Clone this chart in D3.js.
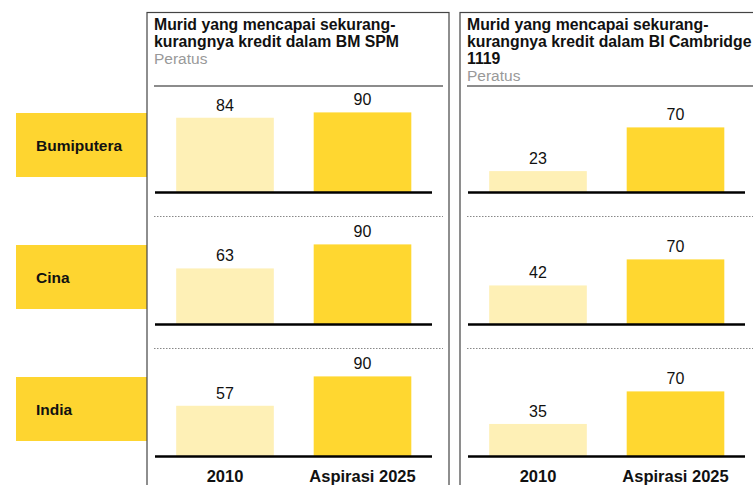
<!DOCTYPE html>
<html><head><meta charset="utf-8">
<script src="https://cdn.jsdelivr.net/npm/d3@7"></script>
<style>
html,body{margin:0;padding:0;background:#fff;}
svg{display:block;font-family:"Liberation Sans",Arial,Helvetica,sans-serif;}
</style></head>
<body>
<svg id="chart" width="753" height="485"></svg>
<script>
// ---- data ----
const groups = ["Bumiputera", "Cina", "India"];
const periods = ["2010", "Aspirasi 2025"];
const bmSpm = [[84, 90], [63, 90], [57, 90]];
const biCambridge = [[23, 70], [42, 70], [35, 70]];
const panelTitles = [
  ["Murid yang mencapai sekurang-", "kurangnya kredit dalam BM SPM"],
  ["Murid yang mencapai sekurang-", "kurangnya kredit dalam BI Cambridge", "1119"]
];
const unitLabel = "Peratus";

// ---- drawing ----
const svg = d3.select("#chart");
const lightCol = "#FEF0B6", darkCol = "#FFD730", boxCol = "#FED530";

const rowY = d3.scalePoint().domain(groups).range([192.5, 456.5]);

// left category boxes
const lab = svg.append("g");
groups.forEach(g => {
  const b = rowY(g);
  lab.append("rect").attr("x", 16).attr("y", b - 79.5).attr("width", 131).attr("height", 64).attr("fill", boxCol);
  lab.append("text").attr("x", 36).attr("y", b - 42).attr("font-size", 15.5).attr("font-weight", "bold")
    .attr("fill", "#111").text(g);
});

const panels = [
  {x: 147, data: bmSpm, title: panelTitles[0], yMax: 89},
  {x: 460, data: biCambridge, title: panelTitles[1], yMax: 93}
];

panels.forEach(p => {
  const g = svg.append("g").attr("transform", `translate(${p.x},0)`);
  const W = 302;
  g.append("rect").attr("x", 0).attr("y", 12.5).attr("width", W).attr("height", 500)
    .attr("fill", "none").attr("stroke", "#444").attr("stroke-width", 1.2);
  // title
  p.title.forEach((t, i) => {
    g.append("text").attr("x", 7).attr("y", 29.5 + i * 17.3).attr("font-size", 15.8)
      .attr("font-weight", "bold").attr("fill", "#111").text(t);
  });
  g.append("text").attr("x", 7).attr("y", 29.5 + p.title.length * 17.3).attr("font-size", 15.5)
    .attr("fill", "#999").text(unitLabel);
  g.append("line").attr("x1", 7).attr("x2", 296).attr("y1", 86).attr("y2", 86)
    .attr("stroke", "#666").attr("stroke-width", 1.5);

  const x = d3.scaleBand().domain(periods).range([9.25, 284.25]).paddingInner(0.29).paddingOuter(0.145);
  const h = d3.scaleLinear().domain([0, 100]).range([0, p.yMax]);

  groups.forEach((grp, gi) => {
    const base = rowY(grp);
    const vals = p.data[gi];
    periods.forEach((per, pi) => {
      const v = vals[pi];
      g.append("rect").attr("x", x(per)).attr("width", x.bandwidth())
        .attr("y", base - h(v)).attr("height", h(v))
        .attr("fill", pi === 0 ? lightCol : darkCol);
      g.append("text").attr("x", x(per) + x.bandwidth() / 2).attr("y", base - h(v) - 7)
        .attr("text-anchor", "middle").attr("font-size", 16).attr("fill", "#111").text(v);
    });
    g.append("line").attr("x1", 8).attr("x2", 285).attr("y1", base).attr("y2", base)
      .attr("stroke", "#000").attr("stroke-width", 2.5);
    if (gi < groups.length - 1) {
      g.append("line").attr("x1", 7).attr("x2", 296).attr("y1", base + 24).attr("y2", base + 24)
        .attr("stroke", "#888").attr("stroke-width", 1).attr("stroke-dasharray", "1.5,1.5");
    }
  });

  periods.forEach(per => {
    g.append("text").attr("x", x(per) + x.bandwidth() / 2).attr("y", 482)
      .attr("text-anchor", "middle").attr("font-size", 16.5).attr("font-weight", "bold")
      .attr("fill", "#111").text(per);
  });
});
</script>
</body></html>
